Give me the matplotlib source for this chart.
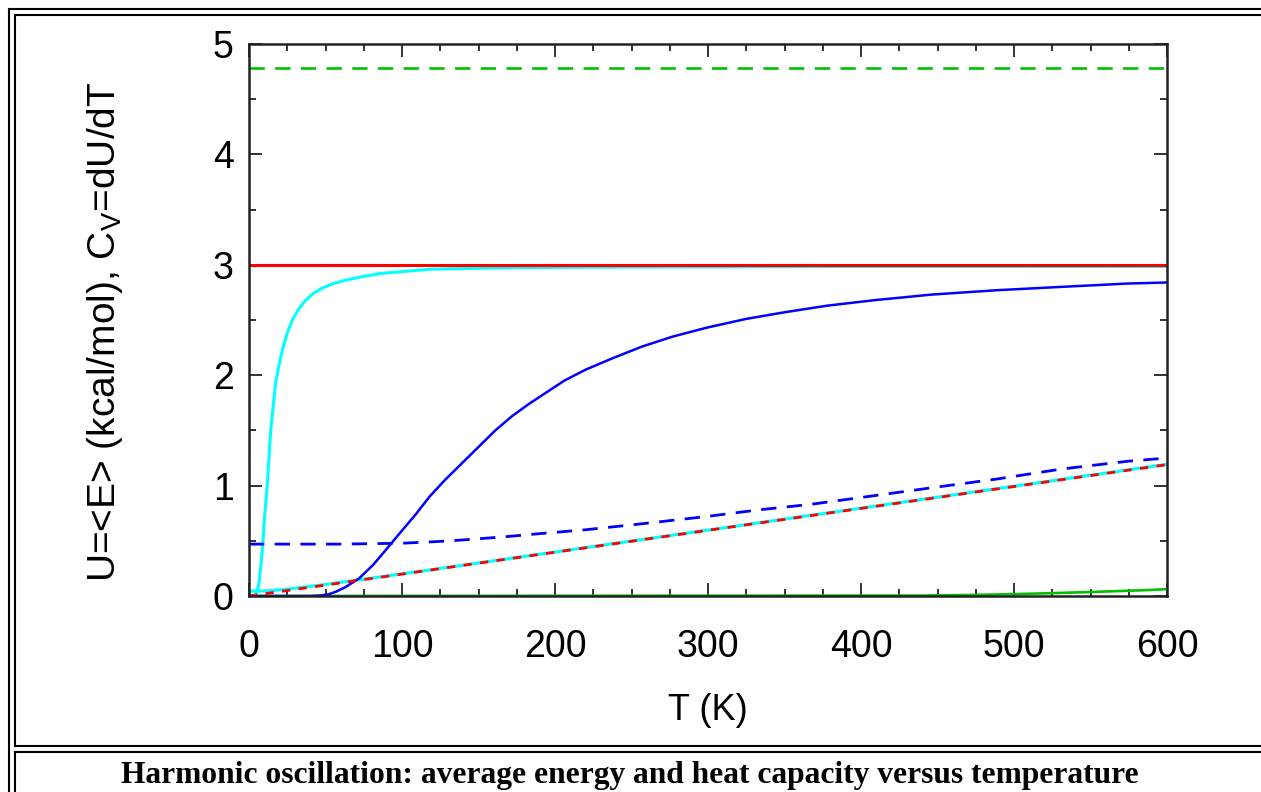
import matplotlib
matplotlib.use("Agg")
import matplotlib.pyplot as plt
from matplotlib.lines import Line2D
from matplotlib.ticker import MultipleLocator

plt.rcParams['font.family'] = ['Liberation Sans', 'DejaVu Sans']
plt.rcParams['mathtext.default'] = 'regular'
plt.rcParams['lines.scale_dashes'] = False

# ----- data -----
# high-frequency oscillator (green)
T_green_u = [0, 600]
U_green = [4.78, 4.78]
T_green_cv = [0, 440, 475, 500, 525, 550, 575, 590, 600]
Cv_green = [0, 0.004, 0.01, 0.017, 0.026, 0.036, 0.048, 0.055, 0.062]

# medium-frequency oscillator (blue)
T_blue_u = [0, 60, 100, 130, 166, 186, 220, 254, 299, 333, 367, 404, 446, 489, 531, 574, 600]
U_blue = [0.47, 0.47, 0.478, 0.498, 0.535, 0.56, 0.6, 0.65, 0.72, 0.78, 0.83, 0.9, 0.98, 1.06, 1.15, 1.22, 1.25]
T_blue_cv = [0, 40, 47, 52, 57, 63, 72, 81, 89, 98, 109, 118, 128, 139, 150, 161, 172, 183,
             195, 206, 220, 237, 257, 277, 299, 325, 350, 378, 409, 446, 489, 531, 574, 600]
Cv_blue = [0, 0, 0.005, 0.015, 0.04, 0.08, 0.16, 0.28, 0.41, 0.56, 0.74, 0.9, 1.05, 1.2, 1.35, 1.5, 1.63, 1.74,
           1.85, 1.95, 2.05, 2.15, 2.26, 2.35, 2.43, 2.51, 2.57, 2.63, 2.68, 2.73, 2.77, 2.8, 2.83, 2.84]

# low-frequency oscillator (cyan)
T_cyan_u = [0, 10, 20, 30, 40, 50, 60, 80, 100, 600]
U_cyan = [0.045, 0.046, 0.055, 0.07, 0.088, 0.105, 0.124, 0.162, 0.2, 1.193]
T_cyan_cv = [0, 3, 5, 6.5, 8.7, 10, 12, 14.2, 17.4, 19.5, 21.8, 25, 28.3, 32, 37, 42, 48, 55,
             63, 73, 85, 118, 172, 250, 400, 600]
Cv_cyan = [0, 0.0, 0.03, 0.11, 0.41, 0.68, 1.02, 1.5, 1.93, 2.08, 2.23, 2.38, 2.5, 2.59, 2.68, 2.74, 2.79, 2.83,
           2.86, 2.89, 2.92, 2.96, 2.975, 2.98, 2.985, 2.985]

# classical limit (red)
T_red = [0, 600]
U_red = [0, 1.19]
Cv_red = [3.0, 3.0]

caption = "Harmonic oscillation: average energy and heat capacity versus temperature"

# ----- figure -----
fig = plt.figure(figsize=(12.61, 7.92), dpi=100)
ax = fig.add_axes([249 / 1261, 1 - 596 / 792, (1167 - 249) / 1261, (596 - 44) / 792])

dash = (11, 7.5)
ax.plot(T_green_u, U_green, color='#00c000', lw=1.9, dashes=dash)
ax.plot(T_green_cv, Cv_green, color='#00c000', lw=1.9)
ax.plot(T_cyan_u, U_cyan, color='#00ffff', lw=2.2)
ax.plot(T_cyan_cv, Cv_cyan, color='#00ffff', lw=2.2)
ax.plot(T_blue_u, U_blue, color='#0000ff', lw=2.0, dashes=dash)
ax.plot(T_blue_cv, Cv_blue, color='#0000ff', lw=1.8)
ax.plot(T_red, U_red, color='#ff0000', lw=2.0, dashes=(6, 6))
ax.plot(T_red, Cv_red, color='#ff0000', lw=2.2)

ax.set_xlim(0, 600)
ax.set_ylim(0, 5)
ax.xaxis.set_major_locator(MultipleLocator(100))
ax.xaxis.set_minor_locator(MultipleLocator(25))
ax.yaxis.set_major_locator(MultipleLocator(1))
ax.yaxis.set_minor_locator(MultipleLocator(0.5))
ax.tick_params(which='both', direction='in', top=True, right=True, width=1.3, color='#222222')
ax.tick_params(which='major', length=9.5)
ax.tick_params(which='minor', length=5)
ax.tick_params(axis='x', which='major', labelsize=27, pad=24)
ax.tick_params(axis='y', which='major', labelsize=27, pad=11)
for sp in ax.spines.values():
    sp.set_linewidth(1.8)
    sp.set_color('#222222')

ax.set_xlabel("T (K)", fontsize=26, labelpad=20)
fig.text(105 / 1261, 1 - 332 / 792, "U=<E> (kcal/mol), C$_V$=dU/dT", fontsize=28,
         rotation=90, ha='center', va='center')

# ----- page table borders -----
def hline(y, x0=8.5, x1=1261):
    fig.add_artist(Line2D([x0 / 1261, x1 / 1261], [1 - y / 792, 1 - y / 792], color='black', lw=1.5))

def vline(x, y0, y1=792):
    fig.add_artist(Line2D([x / 1261, x / 1261], [1 - y0 / 792, 1 - y1 / 792], color='black', lw=1.5))

hline(8.5)
vline(9, 8.5)
hline(15, 15)
vline(15, 15, 746)
hline(746, 15)
hline(752, 15)
vline(15, 752)

fig.text(630 / 1261, 1 - 775 / 792, caption, ha='center', va='center',
         fontsize=22.7, fontweight='bold', family=['Liberation Serif', 'DejaVu Serif'])

fig.savefig("out.png", dpi=100)
